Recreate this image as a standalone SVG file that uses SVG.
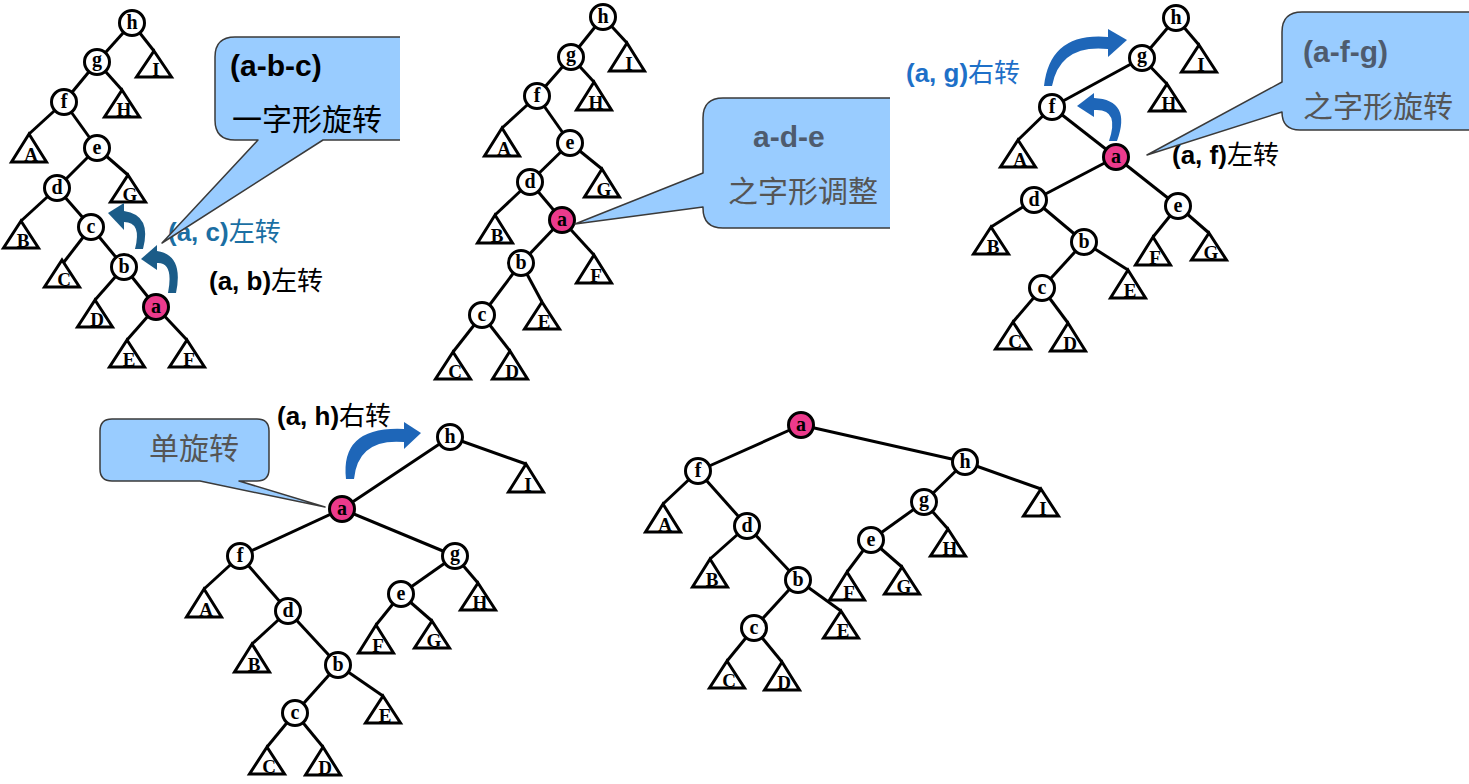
<svg xmlns="http://www.w3.org/2000/svg" width="1469" height="784" viewBox="0 0 1469 784">
<style>
.e{stroke:#000;stroke-width:3;fill:none}
.n{fill:#fff;stroke:#000;stroke-width:3}
.p{fill:#EC3A8C;stroke:#000;stroke-width:3}
.nl{font-family:"Liberation Serif",serif;font-weight:bold;font-size:20px;text-anchor:middle;fill:#000}
.t{fill:#fff;stroke:#000;stroke-width:3;stroke-linejoin:miter}
.tl{font-family:"Liberation Serif",serif;font-weight:bold;font-size:19px;text-anchor:middle;fill:#000}
.lab{font-family:"Liberation Sans","Noto Sans CJK SC",sans-serif;font-size:26px}
.b{font-weight:bold}
.co{fill:#99CCFF;stroke:none}
.cs{fill:none;stroke:#3a3a3a;stroke-width:1.5;stroke-linejoin:round}
.ct{font-family:"Liberation Sans","Noto Sans CJK SC",sans-serif;font-size:30px}
.h1{fill:#1B5C88}
.h2{fill:#1E66B8}
</style>

<!-- connectors -->
<g id="connectors">
<g id="t1-edges">
<line class="e" x1="132" y1="23" x2="97" y2="62"/>
<line class="e" x1="132" y1="23" x2="154" y2="51"/>
<line class="e" x1="97" y1="62" x2="64" y2="102"/>
<line class="e" x1="97" y1="62" x2="122" y2="90"/>
<line class="e" x1="64" y1="102" x2="29" y2="134"/>
<line class="e" x1="64" y1="102" x2="97" y2="148"/>
<line class="e" x1="97" y1="148" x2="57" y2="188"/>
<line class="e" x1="97" y1="148" x2="128" y2="175"/>
<line class="e" x1="57" y1="188" x2="21" y2="221"/>
<line class="e" x1="57" y1="188" x2="91" y2="227"/>
<line class="e" x1="91" y1="227" x2="64" y2="262"/>
<line class="e" x1="91" y1="227" x2="124" y2="267"/>
<line class="e" x1="124" y1="267" x2="95" y2="300"/>
<line class="e" x1="124" y1="267" x2="156" y2="307"/>
<line class="e" x1="156" y1="307" x2="127" y2="340"/>
<line class="e" x1="156" y1="307" x2="187" y2="340"/>
</g>
<g id="t2-edges">
<line class="e" x1="603" y1="17" x2="571" y2="57"/>
<line class="e" x1="603" y1="17" x2="627" y2="43"/>
<line class="e" x1="571" y1="57" x2="537" y2="96"/>
<line class="e" x1="571" y1="57" x2="594" y2="82"/>
<line class="e" x1="537" y1="96" x2="502" y2="128"/>
<line class="e" x1="537" y1="96" x2="570" y2="143"/>
<line class="e" x1="570" y1="143" x2="530" y2="182"/>
<line class="e" x1="570" y1="143" x2="602" y2="169"/>
<line class="e" x1="530" y1="182" x2="495" y2="215"/>
<line class="e" x1="530" y1="182" x2="562" y2="220"/>
<line class="e" x1="562" y1="220" x2="521" y2="263"/>
<line class="e" x1="562" y1="220" x2="594" y2="255"/>
<line class="e" x1="521" y1="263" x2="482" y2="315"/>
<line class="e" x1="521" y1="263" x2="542" y2="302"/>
<line class="e" x1="482" y1="315" x2="453" y2="352"/>
<line class="e" x1="482" y1="315" x2="510" y2="351"/>
</g>
<g id="t3-edges">
<line class="e" x1="1176" y1="18" x2="1142" y2="58"/>
<line class="e" x1="1176" y1="18" x2="1199" y2="45"/>
<line class="e" x1="1142" y1="58" x2="1052" y2="107"/>
<line class="e" x1="1142" y1="58" x2="1167" y2="84"/>
<line class="e" x1="1052" y1="107" x2="1018" y2="140"/>
<line class="e" x1="1052" y1="107" x2="1116" y2="157"/>
<line class="e" x1="1116" y1="157" x2="1034" y2="200"/>
<line class="e" x1="1116" y1="157" x2="1178" y2="206"/>
<line class="e" x1="1034" y1="200" x2="991" y2="227"/>
<line class="e" x1="1034" y1="200" x2="1084" y2="242"/>
<line class="e" x1="1084" y1="242" x2="1042" y2="288"/>
<line class="e" x1="1084" y1="242" x2="1128" y2="270"/>
<line class="e" x1="1042" y1="288" x2="1013" y2="322"/>
<line class="e" x1="1042" y1="288" x2="1068" y2="323"/>
<line class="e" x1="1178" y1="206" x2="1153" y2="237"/>
<line class="e" x1="1178" y1="206" x2="1209" y2="233"/>
</g>
<g id="t4-edges">
<line class="e" x1="450" y1="437" x2="342" y2="509"/>
<line class="e" x1="450" y1="437" x2="526" y2="464"/>
<line class="e" x1="342" y1="509" x2="240" y2="556"/>
<line class="e" x1="342" y1="509" x2="455" y2="556"/>
<line class="e" x1="240" y1="556" x2="204" y2="589"/>
<line class="e" x1="240" y1="556" x2="288" y2="611"/>
<line class="e" x1="288" y1="611" x2="252" y2="644"/>
<line class="e" x1="288" y1="611" x2="338" y2="665"/>
<line class="e" x1="338" y1="665" x2="295" y2="713"/>
<line class="e" x1="338" y1="665" x2="383" y2="696"/>
<line class="e" x1="295" y1="713" x2="267" y2="747"/>
<line class="e" x1="295" y1="713" x2="323" y2="747"/>
<line class="e" x1="455" y1="556" x2="401" y2="594"/>
<line class="e" x1="455" y1="556" x2="478" y2="583"/>
<line class="e" x1="401" y1="594" x2="376" y2="625"/>
<line class="e" x1="401" y1="594" x2="432" y2="621"/>
</g>
<g id="t5-edges">
<line class="e" x1="801" y1="425" x2="698" y2="471"/>
<line class="e" x1="801" y1="425" x2="965" y2="462"/>
<line class="e" x1="698" y1="471" x2="663" y2="504"/>
<line class="e" x1="698" y1="471" x2="747" y2="526"/>
<line class="e" x1="747" y1="526" x2="710" y2="559"/>
<line class="e" x1="747" y1="526" x2="798" y2="580"/>
<line class="e" x1="798" y1="580" x2="754" y2="628"/>
<line class="e" x1="798" y1="580" x2="841" y2="611"/>
<line class="e" x1="754" y1="628" x2="727" y2="661"/>
<line class="e" x1="754" y1="628" x2="782" y2="662"/>
<line class="e" x1="965" y1="462" x2="924" y2="502"/>
<line class="e" x1="965" y1="462" x2="1041" y2="489"/>
<line class="e" x1="924" y1="502" x2="871" y2="540"/>
<line class="e" x1="924" y1="502" x2="948" y2="529"/>
<line class="e" x1="871" y1="540" x2="847" y2="572"/>
<line class="e" x1="871" y1="540" x2="902" y2="567"/>
</g>
</g>

<!-- Tree 1 -->
<g id="tree1">
<g id="t1-h"><circle class="n" cx="132" cy="23" r="12.5"/><text class="nl" x="132" y="29">h</text></g>
<g id="t1-g"><circle class="n" cx="97" cy="62" r="12.5"/><text class="nl" x="97" y="66">g</text></g>
<g id="t1-f"><circle class="n" cx="64" cy="102" r="12.5"/><text class="nl" x="64" y="108">f</text></g>
<g id="t1-e"><circle class="n" cx="97" cy="148" r="12.5"/><text class="nl" x="97" y="154">e</text></g>
<g id="t1-d"><circle class="n" cx="57" cy="188" r="12.5"/><text class="nl" x="57" y="194">d</text></g>
<g id="t1-c"><circle class="n" cx="91" cy="227" r="12.5"/><text class="nl" x="91" y="233">c</text></g>
<g id="t1-b"><circle class="n" cx="124" cy="267" r="12.5"/><text class="nl" x="124" y="273">b</text></g>
<g id="t1-a"><circle class="p" cx="156" cy="307" r="12.5"/><text class="nl" x="156" y="313">a</text></g>
<g id="t1-I"><polygon class="t" points="154,51 171.5,77 136.5,77"/><text class="tl" x="156" y="76">I</text></g>
<g id="t1-H"><polygon class="t" points="122,90 139.5,117 104.5,117"/><text class="tl" x="124" y="116">H</text></g>
<g id="t1-A"><polygon class="t" points="29,134 46.5,162 11.5,162"/><text class="tl" x="31" y="161">A</text></g>
<g id="t1-G"><polygon class="t" points="128,175 145.5,202 110.5,202"/><text class="tl" x="130" y="201">G</text></g>
<g id="t1-B"><polygon class="t" points="21,221 38.5,248 3.5,248"/><text class="tl" x="23" y="247">B</text></g>
<g id="t1-C"><polygon class="t" points="62,260 79.5,287 44.5,287"/><text class="tl" x="64" y="286">C</text></g>
<g id="t1-D"><polygon class="t" points="95,300 112.5,327 77.5,327"/><text class="tl" x="97" y="326">D</text></g>
<g id="t1-E"><polygon class="t" points="127,340 144.5,367 109.5,367"/><text class="tl" x="129" y="366">E</text></g>
<g id="t1-F"><polygon class="t" points="187,340 204.5,367 169.5,367"/><text class="tl" x="189" y="366">F</text></g>
</g>

<!-- Tree 2 -->
<g id="tree2">
<g id="t2-h"><circle class="n" cx="603" cy="17" r="12.5"/><text class="nl" x="603" y="23">h</text></g>
<g id="t2-g"><circle class="n" cx="571" cy="57" r="12.5"/><text class="nl" x="571" y="61">g</text></g>
<g id="t2-f"><circle class="n" cx="537" cy="96" r="12.5"/><text class="nl" x="537" y="102">f</text></g>
<g id="t2-e"><circle class="n" cx="570" cy="143" r="12.5"/><text class="nl" x="570" y="149">e</text></g>
<g id="t2-d"><circle class="n" cx="530" cy="182" r="12.5"/><text class="nl" x="530" y="188">d</text></g>
<g id="t2-a"><circle class="p" cx="562" cy="220" r="12.5"/><text class="nl" x="562" y="226">a</text></g>
<g id="t2-b"><circle class="n" cx="521" cy="263" r="12.5"/><text class="nl" x="521" y="269">b</text></g>
<g id="t2-c"><circle class="n" cx="482" cy="315" r="12.5"/><text class="nl" x="482" y="321">c</text></g>
<g id="t2-I"><polygon class="t" points="627,43 644.5,71 609.5,71"/><text class="tl" x="629" y="70">I</text></g>
<g id="t2-H"><polygon class="t" points="594,82 611.5,110 576.5,110"/><text class="tl" x="596" y="109">H</text></g>
<g id="t2-A"><polygon class="t" points="502,128 519.5,156 484.5,156"/><text class="tl" x="504" y="155">A</text></g>
<g id="t2-G"><polygon class="t" points="602,169 619.5,197 584.5,197"/><text class="tl" x="604" y="196">G</text></g>
<g id="t2-B"><polygon class="t" points="495,215 512.5,243 477.5,243"/><text class="tl" x="497" y="242">B</text></g>
<g id="t2-F"><polygon class="t" points="594,255 611.5,283 576.5,283"/><text class="tl" x="596" y="282">F</text></g>
<g id="t2-E"><polygon class="t" points="542,302 559.5,329 524.5,329"/><text class="tl" x="544" y="328">E</text></g>
<g id="t2-C"><polygon class="t" points="453,352 470.5,379 435.5,379"/><text class="tl" x="455" y="378">C</text></g>
<g id="t2-D"><polygon class="t" points="510,351 527.5,379 492.5,379"/><text class="tl" x="512" y="378">D</text></g>
</g>

<!-- Tree 3 -->
<g id="tree3">
<g id="t3-h"><circle class="n" cx="1176" cy="18" r="12.5"/><text class="nl" x="1176" y="24">h</text></g>
<g id="t3-g"><circle class="n" cx="1142" cy="58" r="12.5"/><text class="nl" x="1142" y="62">g</text></g>
<g id="t3-f"><circle class="n" cx="1052" cy="107" r="12.5"/><text class="nl" x="1052" y="113">f</text></g>
<g id="t3-a"><circle class="p" cx="1116" cy="157" r="12.5"/><text class="nl" x="1116" y="163">a</text></g>
<g id="t3-d"><circle class="n" cx="1034" cy="200" r="12.5"/><text class="nl" x="1034" y="206">d</text></g>
<g id="t3-e"><circle class="n" cx="1178" cy="206" r="12.5"/><text class="nl" x="1178" y="212">e</text></g>
<g id="t3-b"><circle class="n" cx="1084" cy="242" r="12.5"/><text class="nl" x="1084" y="248">b</text></g>
<g id="t3-c"><circle class="n" cx="1042" cy="288" r="12.5"/><text class="nl" x="1042" y="294">c</text></g>
<g id="t3-I"><polygon class="t" points="1199,45 1216.5,72 1181.5,72"/><text class="tl" x="1201" y="71">I</text></g>
<g id="t3-H"><polygon class="t" points="1167,84 1184.5,111 1149.5,111"/><text class="tl" x="1169" y="110">H</text></g>
<g id="t3-A"><polygon class="t" points="1018,140 1035.5,167 1000.5,167"/><text class="tl" x="1020" y="166">A</text></g>
<g id="t3-B"><polygon class="t" points="991,227 1008.5,254 973.5,254"/><text class="tl" x="993" y="253">B</text></g>
<g id="t3-F"><polygon class="t" points="1153,237 1170.5,265 1135.5,265"/><text class="tl" x="1155" y="264">F</text></g>
<g id="t3-G"><polygon class="t" points="1209,233 1226.5,260 1191.5,260"/><text class="tl" x="1211" y="259">G</text></g>
<g id="t3-E"><polygon class="t" points="1128,270 1145.5,298 1110.5,298"/><text class="tl" x="1130" y="297">E</text></g>
<g id="t3-C"><polygon class="t" points="1013,322 1030.5,349 995.5,349"/><text class="tl" x="1015" y="348">C</text></g>
<g id="t3-D"><polygon class="t" points="1068,323 1085.5,351 1050.5,351"/><text class="tl" x="1070" y="350">D</text></g>
</g>

<!-- Tree 4 -->
<g id="tree4">
<g id="t4-h"><circle class="n" cx="450" cy="437" r="12.5"/><text class="nl" x="450" y="443">h</text></g>
<g id="t4-a"><circle class="p" cx="342" cy="509" r="12.5"/><text class="nl" x="342" y="515">a</text></g>
<g id="t4-f"><circle class="n" cx="240" cy="556" r="12.5"/><text class="nl" x="240" y="562">f</text></g>
<g id="t4-g"><circle class="n" cx="455" cy="556" r="12.5"/><text class="nl" x="455" y="560">g</text></g>
<g id="t4-d"><circle class="n" cx="288" cy="611" r="12.5"/><text class="nl" x="288" y="617">d</text></g>
<g id="t4-e"><circle class="n" cx="401" cy="594" r="12.5"/><text class="nl" x="401" y="600">e</text></g>
<g id="t4-b"><circle class="n" cx="338" cy="665" r="12.5"/><text class="nl" x="338" y="671">b</text></g>
<g id="t4-c"><circle class="n" cx="295" cy="713" r="12.5"/><text class="nl" x="295" y="719">c</text></g>
<g id="t4-I"><polygon class="t" points="526,464 543.5,492 508.5,492"/><text class="tl" x="528" y="491">I</text></g>
<g id="t4-A"><polygon class="t" points="204,589 221.5,617 186.5,617"/><text class="tl" x="206" y="616">A</text></g>
<g id="t4-H"><polygon class="t" points="478,583 495.5,610 460.5,610"/><text class="tl" x="480" y="609">H</text></g>
<g id="t4-B"><polygon class="t" points="252,644 269.5,672 234.5,672"/><text class="tl" x="254" y="671">B</text></g>
<g id="t4-F"><polygon class="t" points="376,625 393.5,653 358.5,653"/><text class="tl" x="378" y="652">F</text></g>
<g id="t4-G"><polygon class="t" points="432,621 449.5,648 414.5,648"/><text class="tl" x="434" y="647">G</text></g>
<g id="t4-E"><polygon class="t" points="383,696 400.5,723 365.5,723"/><text class="tl" x="385" y="722">E</text></g>
<g id="t4-C"><polygon class="t" points="267,747 284.5,774 249.5,774"/><text class="tl" x="269" y="773">C</text></g>
<g id="t4-D"><polygon class="t" points="323,747 340.5,775 305.5,775"/><text class="tl" x="325" y="774">D</text></g>
</g>

<!-- Tree 5 -->
<g id="tree5">
<g id="t5-a"><circle class="p" cx="801" cy="425" r="12.5"/><text class="nl" x="801" y="431">a</text></g>
<g id="t5-f"><circle class="n" cx="698" cy="471" r="12.5"/><text class="nl" x="698" y="477">f</text></g>
<g id="t5-h"><circle class="n" cx="965" cy="462" r="12.5"/><text class="nl" x="965" y="468">h</text></g>
<g id="t5-g"><circle class="n" cx="924" cy="502" r="12.5"/><text class="nl" x="924" y="506">g</text></g>
<g id="t5-d"><circle class="n" cx="747" cy="526" r="12.5"/><text class="nl" x="747" y="532">d</text></g>
<g id="t5-e"><circle class="n" cx="871" cy="540" r="12.5"/><text class="nl" x="871" y="546">e</text></g>
<g id="t5-b"><circle class="n" cx="798" cy="580" r="12.5"/><text class="nl" x="798" y="586">b</text></g>
<g id="t5-c"><circle class="n" cx="754" cy="628" r="12.5"/><text class="nl" x="754" y="634">c</text></g>
<g id="t5-A"><polygon class="t" points="663,504 680.5,532 645.5,532"/><text class="tl" x="665" y="531">A</text></g>
<g id="t5-I"><polygon class="t" points="1041,489 1058.5,516 1023.5,516"/><text class="tl" x="1043" y="515">I</text></g>
<g id="t5-H"><polygon class="t" points="948,529 965.5,556 930.5,556"/><text class="tl" x="950" y="555">H</text></g>
<g id="t5-B"><polygon class="t" points="710,559 727.5,587 692.5,587"/><text class="tl" x="712" y="586">B</text></g>
<g id="t5-F"><polygon class="t" points="847,572 864.5,600 829.5,600"/><text class="tl" x="849" y="599">F</text></g>
<g id="t5-G"><polygon class="t" points="902,567 919.5,594 884.5,594"/><text class="tl" x="904" y="593">G</text></g>
<g id="t5-E"><polygon class="t" points="841,611 858.5,638 823.5,638"/><text class="tl" x="843" y="637">E</text></g>
<g id="t5-C"><polygon class="t" points="727,661 744.5,688 709.5,688"/><text class="tl" x="729" y="687">C</text></g>
<g id="t5-D"><polygon class="t" points="782,662 799.5,690 764.5,690"/><text class="tl" x="784" y="689">D</text></g>
</g>

<!-- rotation arrows -->
<g id="rot-arrows">
<path class="h1" d="M 176 293 Q 184 255 157 251 L 157 263 Q 174 262 168 293 Z"/>
<polygon class="h1" points="141,259 157,245 157,270"/>
<path class="h1" d="M 143 249 Q 152 215 124 211 L 124 222 Q 142 222 135 249 Z"/>
<polygon class="h1" points="108,213 124,203 124,230"/>
<path class="h2" d="M 1044 86 Q 1050 32 1108 37 L 1108 49 Q 1060 44 1052 86 Z"/>
<polygon class="h2" points="1127,40 1108,29 1108,57"/>
<path class="h2" d="M 1117 141 Q 1132 100 1094 98 L 1094 110 Q 1120 108 1109 141 Z"/>
<polygon class="h2" points="1077,106 1094,93 1094,117"/>
<path class="h2" d="M 346 479 Q 340 426 404 429 L 404 442 Q 358 438 354 479 Z"/>
<polygon class="h2" points="421,433 404,422 404,449"/>
</g>

<!-- labels -->
<g id="labels">
<text class="lab" x="168" y="241" fill="#1B6FA3"><tspan class="b">(a, c)</tspan>左转</text>
<text class="lab" x="209" y="290" fill="#000"><tspan class="b">(a, b)</tspan>左转</text>
<text class="lab" x="906" y="82" fill="#1E70C8"><tspan class="b">(a, g)</tspan>右转</text>
<text class="lab" x="1172" y="164" fill="#000"><tspan class="b">(a, f)</tspan>左转</text>
<text class="lab" x="277" y="425" fill="#000"><tspan class="b">(a, h)</tspan>右转</text>
</g>

<!-- callouts -->
<g id="callout1">
<path class="co" d="M 400 37 L 235 37 Q 215 37 215 57 L 215 120 Q 215 140 235 140 L 258 140 L 162 243 L 323 140 L 400 140 Z"/>
<path class="cs" d="M 400 37 L 235 37 Q 215 37 215 57 L 215 120 Q 215 140 235 140 L 258 140 L 162 243 L 323 140 L 400 140"/>
<text class="ct b" x="230" y="76" fill="#000">(a-b-c)</text>
<text class="ct" x="232" y="130" fill="#000">一字形旋转</text>
</g>
<g id="callout2">
<path class="co" d="M 890 98 L 723 98 Q 703 98 703 118 L 703 173 L 575 224 L 703 207 L 703 208 Q 703 228 723 228 L 890 228 Z"/>
<path class="cs" d="M 890 98 L 723 98 Q 703 98 703 118 L 703 173 L 575 224 L 703 207 L 703 208 Q 703 228 723 228 L 890 228"/>
<text class="ct b" x="753" y="147" fill="#4E5B6E">a-d-e</text>
<text class="ct" x="728" y="202" fill="#555">之字形调整</text>
</g>
<g id="callout3">
<path class="co" d="M 1469 12 L 1302 12 Q 1282 12 1282 32 L 1282 82 L 1147 155 L 1282 112 Q 1282 130 1300 130 L 1469 130 Z"/>
<path class="cs" d="M 1469 12 L 1302 12 Q 1282 12 1282 32 L 1282 82 L 1147 155 L 1282 112 Q 1282 130 1300 130 L 1469 130"/>
<text class="ct b" x="1303" y="62" fill="#4E5B6E">(a-f-g)</text>
<text class="ct" x="1303" y="117" fill="#555">之字形旋转</text>
</g>
<g id="callout4">
<path class="co" d="M 112 419 L 257 419 Q 269 419 269 431 L 269 469 Q 269 481 257 481 L 239 481 L 325 507 L 200 481 L 112 481 Q 100 481 100 469 L 100 431 Q 100 419 112 419 Z"/>
<path class="cs" d="M 112 419 L 257 419 Q 269 419 269 431 L 269 469 Q 269 481 257 481 L 239 481 L 325 507 L 200 481 L 112 481 Q 100 481 100 469 L 100 431 Q 100 419 112 419 Z"/>
<text class="ct" x="149" y="459" fill="#555">单旋转</text>
</g>
</svg>
